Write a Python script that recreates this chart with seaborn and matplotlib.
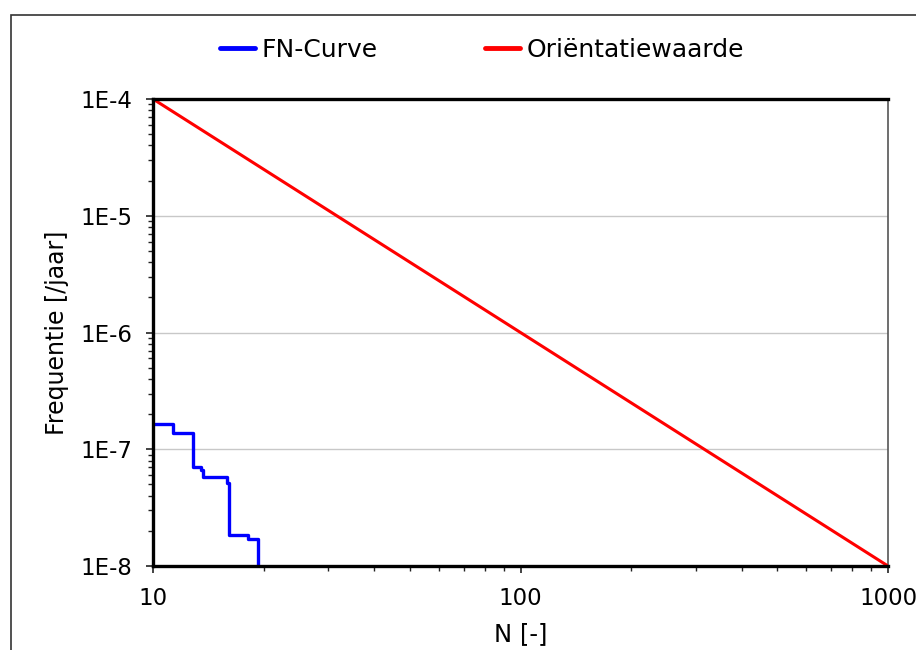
"""
FN-curve vs. orientatiewaarde (groepsrisico), log-log.
Saves out.png (916x650).
"""
import matplotlib
matplotlib.use("Agg")
import matplotlib.pyplot as plt
import matplotlib.ticker as mticker
from matplotlib.patches import Rectangle
import pandas as pd
import seaborn as sns

fn_n = [10, 11.36, 12.87, 13.51, 13.65, 15.87, 16.1, 18.17, 19.3]
fn_freq = [1.64e-7, 1.39e-7, 7.0e-8, 6.64e-8, 5.75e-8, 5.1e-8, 1.84e-8, 1.69e-8, 1e-8]

# orientatiewaarde: 1e-3 / N^2
ow_n = [10, 1000]
ow_freq = [1e-4, 1e-8]

y_ticks = [1e-8, 1e-7, 1e-6, 1e-5, 1e-4]
y_labels = ["1E-8", "1E-7", "1E-6", "1E-5", "1E-4"]
x_ticks = [10, 100, 1000]
x_labels = ["10", "100", "1000"]

sns.set_style("white")
plt.rcParams["font.family"] = ["DejaVu Sans"]
plt.rcParams.update({"text.color": "black", "axes.labelcolor": "black",
                     "xtick.color": "black", "ytick.color": "black"})

fig = plt.figure(figsize=(9.16, 6.5), dpi=100)
ax = fig.add_axes([153 / 916, 1 - 566 / 650, (888 - 153) / 916, (566 - 99) / 650])

fn = pd.DataFrame({"N": fn_n, "F": fn_freq})
ow = pd.DataFrame({"N": ow_n, "F": ow_freq})
sns.lineplot(data=fn, x="N", y="F", ax=ax, color="#0000ff", lw=2.4,
             drawstyle="steps-post", estimator=None, sort=False,
             label="FN-Curve", zorder=4)
sns.lineplot(data=ow, x="N", y="F", ax=ax, color="#ff0000", lw=2.2,
             estimator=None, sort=False, label="Oriëntatiewaarde", zorder=4)

ax.set_xscale("log")
ax.set_yscale("log")
ax.set_xlim(10, 1000)
ax.set_ylim(1e-8, 1e-4)

ax.yaxis.set_major_locator(mticker.FixedLocator(y_ticks))
ax.yaxis.set_major_formatter(mticker.FixedFormatter(y_labels))
ax.xaxis.set_major_locator(mticker.FixedLocator(x_ticks))
ax.xaxis.set_major_formatter(mticker.FixedFormatter(x_labels))
ax.yaxis.set_minor_locator(mticker.LogLocator(base=10, subs=range(2, 10)))
ax.xaxis.set_minor_locator(mticker.LogLocator(base=10, subs=range(2, 10)))
ax.yaxis.set_minor_formatter(mticker.NullFormatter())
ax.xaxis.set_minor_formatter(mticker.NullFormatter())

ax.tick_params(which="major", direction="out", length=5, width=1.2,
               color="#222222", labelsize=16.5, pad=10, left=True, bottom=True)
ax.tick_params(which="minor", direction="out", length=3.5, width=1.0,
               color="#222222", left=True, bottom=True)

ax.grid(axis="y", which="major", color="#c8c8c8", lw=1.0)
ax.grid(axis="x", visible=False)

for side in ["top", "left", "bottom"]:
    ax.spines[side].set_color("black")
    ax.spines[side].set_linewidth(2.4)
    ax.spines[side].set_zorder(5)
ax.spines["right"].set_color("#555555")
ax.spines["right"].set_linewidth(1.2)

ax.set_xlabel("N [-]", fontsize=17.5, labelpad=9)
ax.set_ylabel("Frequentie [/jaar]", fontsize=17, labelpad=8)

leg = ax.legend(loc="center", bbox_to_anchor=(0.448, 1.105), ncol=2, frameon=False,
                fontsize=18, handlelength=1.4, handletextpad=0.25, columnspacing=4.3)
for h in leg.get_lines():
    h.set_linewidth(3.5)

# kader rond de figuur
fig.patches.append(Rectangle((11 / 916, -0.05), 1.2, 1 - 15 / 650 + 0.05,
                             transform=fig.transFigure, fill=False,
                             edgecolor="#333333", lw=1.2))

fig.savefig("out.png", dpi=100)
